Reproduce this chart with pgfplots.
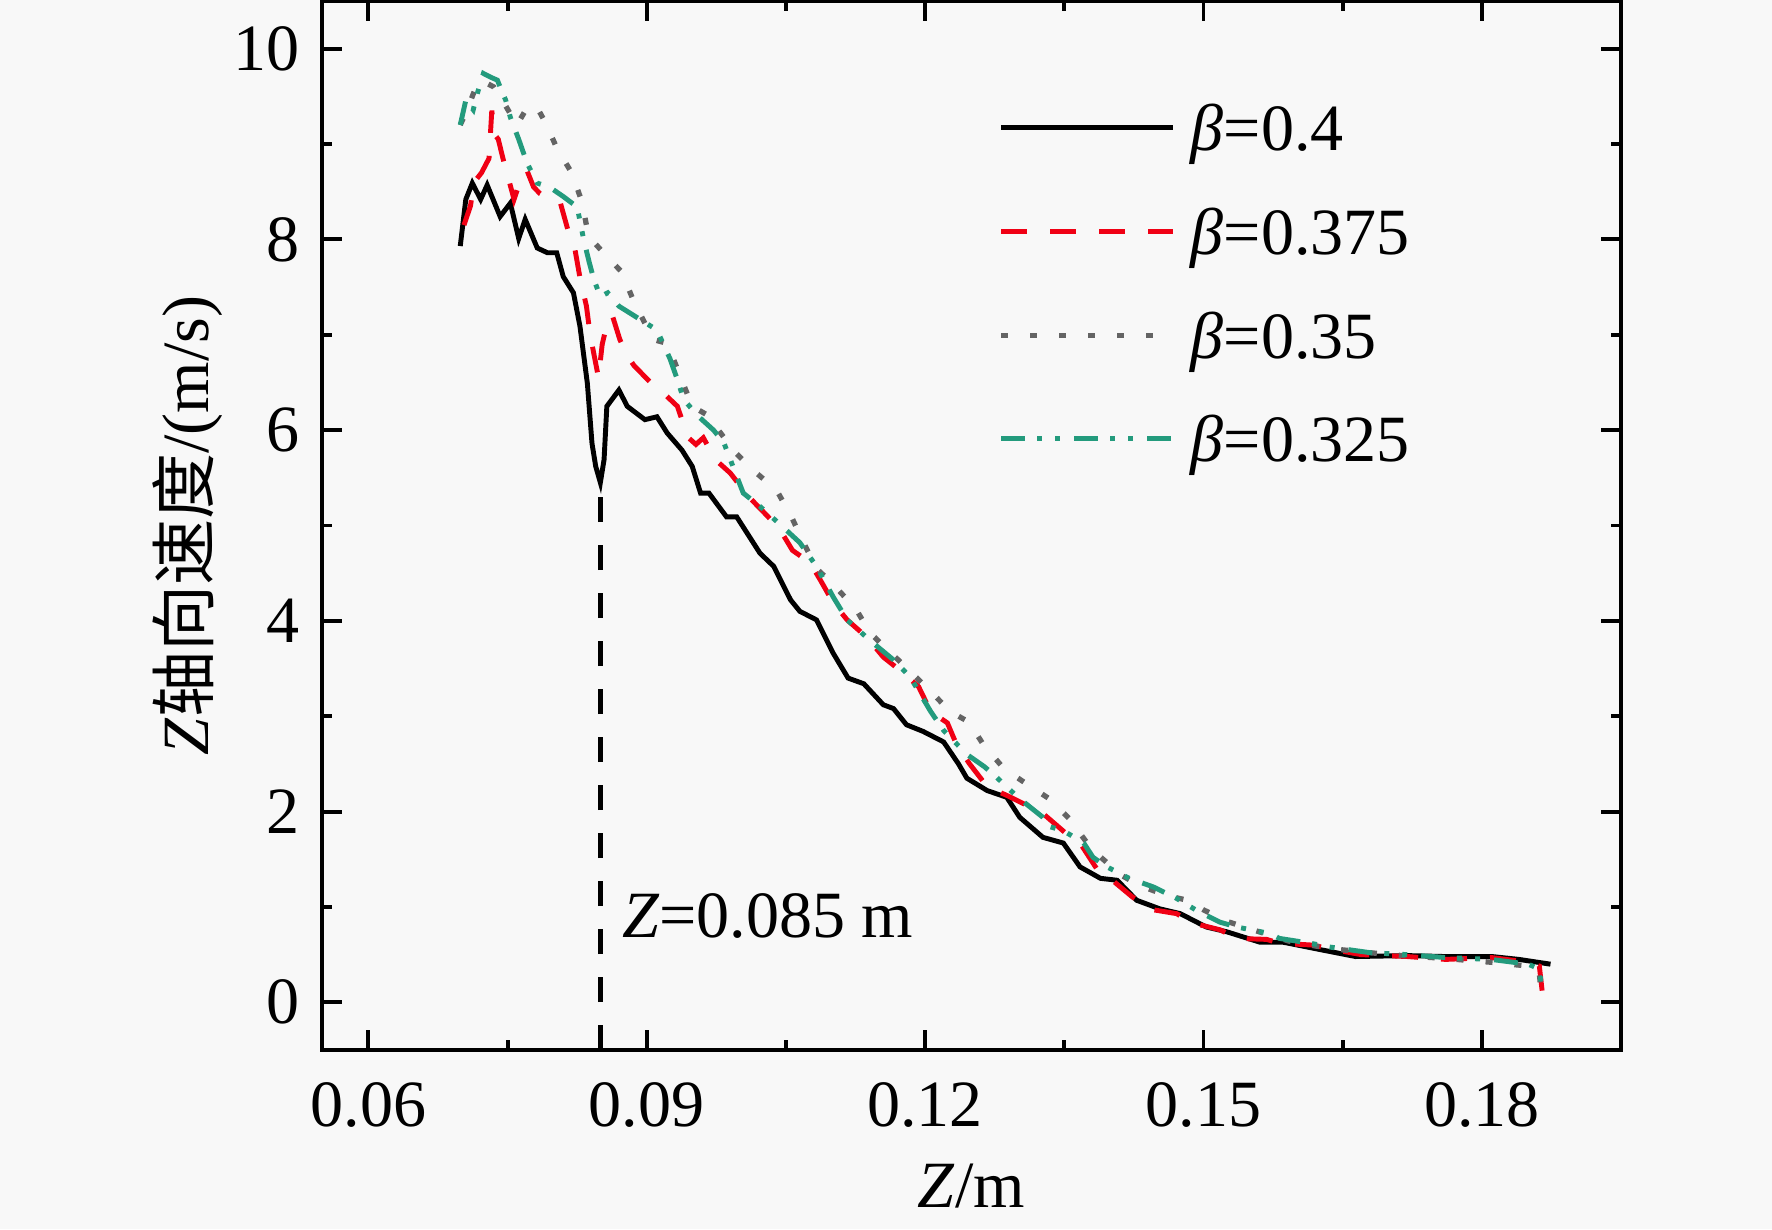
\documentclass[border=0pt]{standalone}
\usepackage{fontspec}
\setmainfont{Liberation Serif}
\newfontfamily\cjk{Noto Sans CJK SC}
\usepackage{pgfplots}
\pgfplotsset{compat=1.18}
\definecolor{myred}{RGB}{240,0,20}
\definecolor{mygray}{RGB}{100,100,100}
\definecolor{myteal}{RGB}{35,155,125}
\definecolor{bg}{RGB}{248,248,248}
\begin{document}
\fontsize{18.8}{22}\selectfont
\begin{tikzpicture}
\fill[bg] (-32.2mm,-17.9mm) rectangle (145.0mm,105.0mm);
\begin{axis}[
  at={(0,0)}, anchor=south west,
  scale only axis, width=129.9mm, height=104.9mm,
  xmin=0.055, xmax=0.195, ymin=-0.5, ymax=10.5,
  xtick={0.06,0.09,0.12,0.15,0.18},
  xticklabels={0.06,0.09,0.12,0.15,0.18},
  scaled x ticks=false,
  minor x tick num=1,
  ytick={0,2,4,6,8,10},
  minor y tick num=1,
  tick align=inside,
  major tick length=2mm, minor tick length=1mm,
  every tick/.style={line width=1.1pt, black},
  axis line style={line width=1.1pt},
  /pgf/number format/assume math mode=true,
  xticklabel style={yshift=-1mm},
  xlabel={\textit{Z}/m},
  ylabel={\textit{Z}{\cjk 轴向速度}/(m/s)},
  xlabel style={at={(axis description cs:0.5,0)}, anchor=base, yshift=-15.7mm},
  ylabel style={at={(axis description cs:-0.087,0.5)}, anchor=base},
  legend cell align=left,
  legend style={draw=none, fill=none, at={(axis description cs:0.5204,0.9056)}, anchor=north west,
    row sep=3.87mm, column sep=1.5mm, inner sep=0pt,
    nodes={inner sep=0pt, text height=5mm, text depth=1.5mm, anchor=base west}},
  legend image code/.code={\draw[#1] (0mm,2.3mm) -- (17.2mm,2.3mm);},
]
\addplot[black, line width=1.4pt] coordinates {
(0.0699,7.93) (0.0705,8.42) (0.0712,8.59) (0.0721,8.42) (0.0728,8.57) (0.0742,8.24)
(0.0753,8.38) (0.0762,8.01) (0.0769,8.21) (0.0782,7.91) (0.0793,7.86) (0.0803,7.86)
(0.0810,7.61) (0.0821,7.44) (0.0828,7.09) (0.0836,6.49) (0.0841,5.86) (0.0845,5.62)
(0.0850,5.45) (0.0854,5.69) (0.0857,6.25) (0.0870,6.42) (0.0879,6.25) (0.0898,6.11)
(0.0911,6.14) (0.0922,5.97) (0.0938,5.79) (0.0949,5.62) (0.0958,5.34) (0.0967,5.34)
(0.0986,5.09) (0.0997,5.09) (0.1022,4.71) (0.1037,4.57) (0.1055,4.22) (0.1065,4.10)
(0.1083,4.01) (0.1101,3.66) (0.1117,3.40) (0.1134,3.34) (0.1155,3.12) (0.1166,3.08)
(0.1180,2.91) (0.1198,2.84) (0.1220,2.73) (0.1236,2.50) (0.1245,2.35) (0.1267,2.22)
(0.1288,2.15) (0.1302,1.94) (0.1327,1.73) (0.1349,1.67) (0.1367,1.42) (0.1389,1.30)
(0.1407,1.28) (0.1428,1.07) (0.1453,0.98) (0.1475,0.93) (0.1503,0.79) (0.1525,0.74)
(0.1561,0.63) (0.1586,0.63) (0.1622,0.56) (0.1664,0.48) (0.1720,0.49) (0.1761,0.48)
(0.1811,0.48) (0.1840,0.45) (0.1874,0.40)
};
\addlegendentry{{\itshape β}=0.4}
\addplot[myred, line width=1.4pt, dash pattern=on 2.6mm off 2.3mm] coordinates {
(0.0703,8.15) (0.0710,8.35) (0.0714,8.60) (0.0722,8.70) (0.0730,8.85) (0.0733,9.35)
(0.0736,9.10) (0.0740,9.05) (0.0745,8.85) (0.0752,8.60) (0.0757,8.42) (0.0764,8.62)
(0.0771,8.72) (0.0778,8.55) (0.0785,8.48) (0.0796,8.43) (0.0807,8.38) (0.0815,8.10)
(0.0822,7.93) (0.0828,7.60) (0.0835,7.30) (0.0839,7.00) (0.0845,6.70) (0.0848,6.55)
(0.0852,6.90) (0.0858,7.15) (0.0863,7.20) (0.0871,6.95) (0.0878,6.80) (0.0886,6.68)
(0.0904,6.50) (0.0920,6.37) (0.0933,6.25) (0.0940,6.05) (0.0945,5.92) (0.0953,5.85)
(0.0961,5.92) (0.0974,5.69) (0.0990,5.55) (0.1010,5.30) (0.1030,5.10) (0.1044,4.95)
(0.1057,4.74) (0.1076,4.61) (0.1087,4.43) (0.1101,4.19) (0.1116,4.01) (0.1137,3.83)
(0.1155,3.62) (0.1177,3.45) (0.1193,3.31) (0.1206,3.05) (0.1224,2.93) (0.1234,2.70)
(0.1248,2.50) (0.1267,2.26) (0.1288,2.17) (0.1313,2.05) (0.1327,1.98) (0.1352,1.77)
(0.1367,1.67) (0.1385,1.40) (0.1403,1.27) (0.1424,1.10) (0.1446,0.97) (0.1471,0.93)
(0.1489,0.83) (0.1518,0.76) (0.1536,0.67) (0.1568,0.66) (0.1582,0.62) (0.1618,0.60)
(0.1636,0.56) (0.1670,0.50) (0.1720,0.48) (0.1761,0.45) (0.1810,0.47) (0.1850,0.42)
(0.1862,0.38) (0.1865,0.12)
};
\addlegendentry{{\itshape β}=0.375}
\addplot[mygray, line width=1.5pt, dash pattern=on 0.7mm off 2.2mm] coordinates {
(0.0699,9.20) (0.0706,9.35) (0.0714,9.55) (0.0721,9.67) (0.0735,9.60) (0.0745,9.45)
(0.0760,9.20) (0.0771,9.38) (0.0781,9.40) (0.0791,9.22) (0.0803,8.96) (0.0819,8.70)
(0.0830,8.40) (0.0836,8.10) (0.0845,7.95) (0.0857,7.82) (0.0873,7.66) (0.0886,7.35)
(0.0907,6.95) (0.0922,6.91) (0.0929,6.74) (0.0949,6.25) (0.0965,6.16) (0.0995,5.77)
(0.1017,5.56) (0.1040,5.37) (0.1056,5.09) (0.1070,4.80) (0.1083,4.55) (0.1103,4.36)
(0.1125,4.13) (0.1141,3.87) (0.1170,3.60) (0.1205,3.27) (0.1227,3.05) (0.1247,2.94)
(0.1263,2.70) (0.1285,2.45) (0.1308,2.30) (0.1333,2.14) (0.1355,1.93) (0.1380,1.60)
(0.1412,1.33) (0.1430,1.23) (0.1460,1.12) (0.1483,1.07) (0.1500,0.97) (0.1525,0.85)
(0.1550,0.77) (0.1596,0.63) (0.1640,0.56) (0.1700,0.50) (0.1760,0.46) (0.1810,0.42)
(0.1850,0.38) (0.1862,0.30) (0.1865,0.00)
};
\addlegendentry{{\itshape β}=0.35}
\addplot[myteal, line width=1.4pt, dash pattern=on 2.4mm off 1.2mm on 0.5mm off 1.3mm on 0.5mm off 1.4mm] coordinates {
(0.0699,9.20) (0.0705,9.46) (0.0713,9.36) (0.0718,9.55) (0.0724,9.74) (0.0732,9.70)
(0.0739,9.67) (0.0744,9.55) (0.0748,9.46) (0.0753,9.28) (0.0762,9.05) (0.0771,8.80)
(0.0782,8.59) (0.0795,8.55) (0.0810,8.45) (0.0825,8.34) (0.0832,8.00) (0.0838,7.76)
(0.0843,7.58) (0.0850,7.40) (0.0858,7.44) (0.0870,7.30) (0.0893,7.16) (0.0911,7.05)
(0.0925,6.75) (0.0933,6.53) (0.0940,6.32) (0.0955,6.15) (0.0972,6.00) (0.0983,5.87)
(0.1004,5.34) (0.1022,5.20) (0.1045,5.00) (0.1065,4.82) (0.1083,4.57) (0.1101,4.25)
(0.1116,4.01) (0.1140,3.80) (0.1166,3.59) (0.1184,3.41) (0.1206,3.05) (0.1220,2.85)
(0.1245,2.60) (0.1264,2.47) (0.1277,2.36) (0.1300,2.15) (0.1327,1.94) (0.1335,1.84)
(0.1349,1.80) (0.1371,1.67) (0.1381,1.52) (0.1396,1.42) (0.1420,1.30) (0.1446,1.21)
(0.1471,1.09) (0.1495,0.95) (0.1518,0.84) (0.1536,0.79) (0.1572,0.72) (0.1582,0.67)
(0.1615,0.62) (0.1636,0.58) (0.1680,0.52) (0.1720,0.50) (0.1760,0.47) (0.1810,0.45)
(0.1850,0.40) (0.1862,0.35) (0.1865,0.10)
};
\addlegendentry{{\itshape β}=0.325}
\addplot[black, line width=1.3pt, dash pattern=on 2.5mm off 2.3mm, forget plot] coordinates {(0.085,-0.5) (0.085,5.45)};
\node[anchor=base west, inner sep=0pt] at (axis cs:0.08726,0.682) {\textit{Z}=0.085 m};
\end{axis}
\pgfresetboundingbox
\path (-32.2mm,-17.9mm) rectangle (145.0mm,105.0mm);
\end{tikzpicture}
\end{document}
